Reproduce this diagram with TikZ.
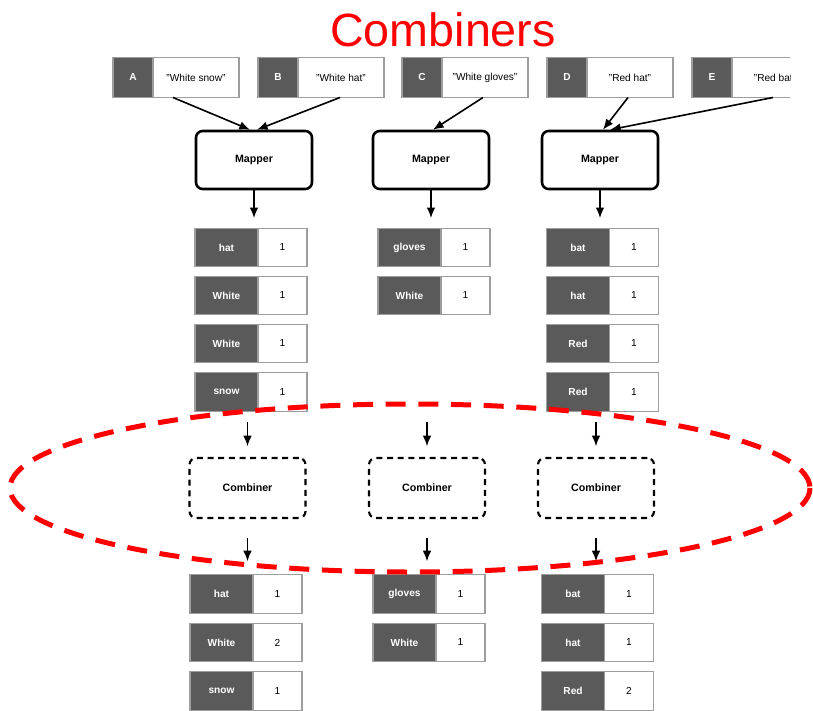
\documentclass[tikz,border=0pt]{standalone}
\usepackage{fontspec}
\setmainfont{Liberation Sans}
\usetikzlibrary{arrows.meta,calc}
\definecolor{keygray}{HTML}{5A5A5A}
\definecolor{edgegray}{HTML}{9E9E9E}

\tikzset{
  txt/.style={font=\fontsize{7.6}{9}\selectfont},
  pair/.style={draw=edgegray, line width=0.8pt, fill=white, minimum width=84pt,
    minimum height=29pt, inner sep=0pt, outer sep=0pt},
  keycell/.style={fill=keygray, draw=edgegray, line width=0.8pt, minimum width=47.25pt,
    minimum height=29pt, inner sep=0pt, outer sep=0pt, text=white, anchor=west,
    font=\bfseries\fontsize{7.6}{9}\selectfont},
  valcell/.style={minimum width=36.75pt, minimum height=29pt, inner sep=0pt,
    outer sep=0pt, anchor=east, txt},
  inbox/.style={draw=edgegray, line width=0.8pt, fill=white, minimum width=94.5pt,
    minimum height=30pt, inner sep=0pt, outer sep=0pt},
  inkey/.style={fill=keygray, draw=edgegray, line width=0.8pt, minimum width=30pt,
    minimum height=30pt, inner sep=0pt, outer sep=0pt, text=white, anchor=west,
    font=\bfseries\fontsize{7.6}{9}\selectfont},
  inval/.style={minimum width=64.5pt, minimum height=30pt, inner sep=0pt,
    outer sep=0pt, anchor=east, txt},
  mapper/.style={draw, line width=1.9pt, rounded corners=5pt, fill=white,
    minimum width=87pt, minimum height=43.5pt, inner sep=0pt,
    font=\bfseries\fontsize{8}{10}\selectfont},
  combiner/.style={draw, line width=1.6pt, dash pattern=on 4.5pt off 3.5pt,
    rounded corners=5pt, minimum width=87pt, minimum height=45pt, inner sep=0pt,
    font=\bfseries\fontsize{8}{10}\selectfont},
  conn/.style={-{Latex[length=8pt,width=6.5pt]}, line width=1.2pt},
  ring/.style={draw=red, line width=3.75pt, dash pattern=on 15pt off 9.5pt},
}

% key/value pair: name, x, y, key, value
\newcommand\kvpair[5]{%
  \node[pair] (#1) at (#2,#3) {};
  \node[keycell] (#1k) at (#1.west) {#4};
  \node[valcell] (#1v) at (#1.east) {#5};
}
% input record: name, x, y, letter, text
\newcommand\inrec[5]{%
  \node[inbox] (#1) at (#2,#3) {};
  \node[inkey] (#1k) at (#1.west) {#4};
  \node[inval] (#1v) at (#1.east) {#5};
}

\begin{document}
\begin{tikzpicture}[x=0.75pt,y=-0.75pt]
\useasboundingbox (0,0) rectangle (813,710);

% title
\node[text=red, font=\fontsize{35}{40}\selectfont, anchor=base, inner sep=0pt]
  (title) at (443,46) {Combiners};

% input records
\inrec{A}{176}{77.5}{A}{"White snow"}
\inrec{B}{321}{77.5}{B}{"White hat"}
\inrec{C}{465}{77.5}{C}{"White gloves"}
\inrec{D}{610}{77.5}{D}{"Red hat"}
\begin{scope}
  \clip (0,0) rectangle (790,710);
  \inrec{E}{755}{77.5}{E}{"Red bat"}
\end{scope}

% mappers
\node[mapper] (m1) at (254,160) {Mapper};
\node[mapper] (m2) at (431,160) {Mapper};
\node[mapper] (m3) at (600,160) {Mapper};

\draw[conn] ($(A.south)+(-3,0)$) -- ($(m1.north)+(-4,0)$);
\draw[conn] ($(B.south)+(19,0)$) -- ($(m1.north)+(3,0)$);
\draw[conn] ($(C.south)+(18,0)$) -- ($(m2.north)+(2,0)$);
\draw[conn] ($(D.south)+(18,0)$) -- ($(m3.north)+(3,0)$);
\draw[conn] ($(E.south)+(18,0)$) -- ($(m3.north)+(10,0)$);

% mapper output
\kvpair{p11}{251}{247.5}{hat}{1}
\kvpair{p12}{251}{295.5}{White}{1}
\kvpair{p13}{251}{343.5}{White}{1}
\kvpair{p14}{251}{392}{snow}{1}
\kvpair{p21}{434}{247.5}{gloves}{1}
\kvpair{p22}{434}{295.5}{White}{1}
\kvpair{p31}{602.5}{247.5}{bat}{1}
\kvpair{p32}{602.5}{295.5}{hat}{1}
\kvpair{p33}{602.5}{343.5}{Red}{1}
\kvpair{p34}{602.5}{392}{Red}{1}

\draw[conn, shorten >=7.5pt] (m1.south) -- (m1.south |- p11.north);
\draw[conn, shorten >=7.5pt] (m2.south) -- (m2.south |- p21.north);
\draw[conn, shorten >=7.5pt] (m3.south) -- (m3.south |- p31.north);

% combiners
\node[combiner] (c1) at (247.5,488) {Combiner};
\node[combiner] (c2) at (427,488) {Combiner};
\node[combiner] (c3) at (596,488) {Combiner};

\draw[conn, shorten <=8pt, shorten >=8pt] (c1.north |- p14.south) -- (c1.north);
\draw[conn, shorten <=8pt, shorten >=8pt] (c2.north |- p14.south) -- (c2.north);
\draw[conn, shorten <=8pt, shorten >=8pt] (c3.north |- p34.south) -- (c3.north);

% combiner output
\kvpair{q11}{246}{594}{hat}{1}
\kvpair{q12}{246}{642.5}{White}{2}
\kvpair{q13}{246}{691}{snow}{1}
\kvpair{q21}{429}{594}{gloves}{1}
\kvpair{q22}{429}{642.5}{White}{1}
\kvpair{q31}{597.5}{594}{bat}{1}
\kvpair{q32}{597.5}{642.5}{hat}{1}
\kvpair{q33}{597.5}{691}{Red}{2}

\draw[conn, shorten <=14pt, shorten >=10pt] (c1.south) -- (c1.south |- q11.north);
\draw[conn, shorten <=14pt, shorten >=10pt] (c2.south) -- (c2.south |- q21.north);
\draw[conn, shorten <=14pt, shorten >=10pt] (c3.south) -- (c3.south |- q31.north);

% highlight around the combiners
\draw[ring] (410,488) ellipse [x radius=400, y radius=84];
\end{tikzpicture}
\end{document}
